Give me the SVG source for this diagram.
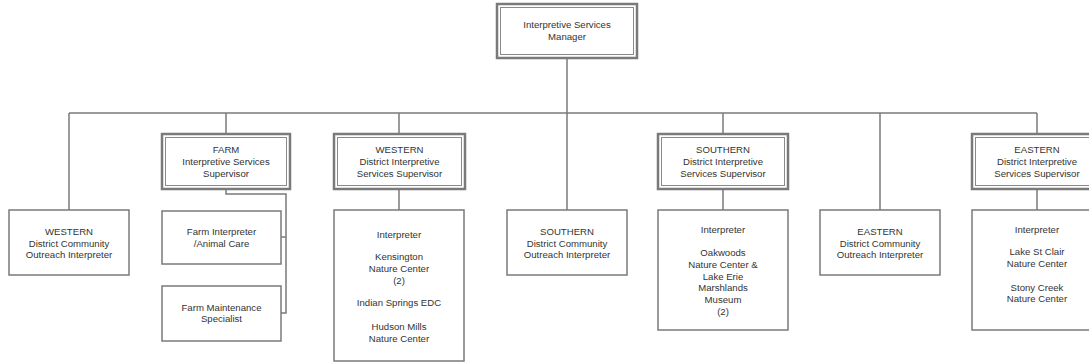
<svg xmlns="http://www.w3.org/2000/svg" width="1089" height="364" viewBox="0 0 1089 364">
<style>
.bg{fill:#ffffff}
.box{fill:#ffffff;stroke:#7a7a7a;stroke-width:1.5}
.dbl{fill:#ffffff;stroke:#7a7a7a;stroke-width:2.5}
.inner{fill:none;stroke:#8a8a8a;stroke-width:1}
.ln{fill:none;stroke:#7a7a7a;stroke-width:1.5}
text{font-family:"Liberation Sans",Arial,sans-serif;font-size:9.6px;fill:#333333;text-anchor:middle}
</style>
<rect class="bg" x="0" y="0" width="1089" height="364"/>
<g id="connectors">
<path class="ln" d="M567,58 V210"/>
<path class="ln" d="M69,113 H1037"/>
<path class="ln" d="M69,113 V210"/>
<path class="ln" d="M226,113 V134"/>
<path class="ln" d="M399,113 V134"/>
<path class="ln" d="M723,113 V134"/>
<path class="ln" d="M880,113 V210"/>
<path class="ln" d="M1037,113 V134"/>
<path class="ln" d="M226,189 V194 H286 V313 H281"/>
<path class="ln" d="M286,237 H281"/>
<path class="ln" d="M399,189 V210"/>
<path class="ln" d="M723,189 V210"/>
<path class="ln" d="M1037,189 V210"/>
</g>
<g id="manager">
<rect class="dbl" x="497" y="4" width="140" height="54"/>
<rect class="inner" x="500.5" y="7.5" width="133" height="47"/>
<text x="567" y="28">Interpretive Services</text>
<text x="567" y="40">Manager</text>
</g>
<g id="western-outreach">
<rect class="box" x="9" y="210" width="120" height="65"/>
<text x="69" y="235">WESTERN</text>
<text x="69" y="246.5">District Community</text>
<text x="69" y="258">Outreach Interpreter</text>
</g>
<g id="farm-supervisor">
<rect class="dbl" x="162" y="134" width="128" height="55"/>
<rect class="inner" x="165.5" y="137.5" width="121" height="48"/>
<text x="226" y="153">FARM</text>
<text x="226" y="165">Interpretive Services</text>
<text x="226" y="177">Supervisor</text>
</g>
<g id="farm-interpreter">
<rect class="box" x="162" y="211" width="119" height="53"/>
<text x="221.5" y="235">Farm Interpreter</text>
<text x="221.5" y="246.5">/Animal Care</text>
</g>
<g id="farm-maintenance">
<rect class="box" x="162" y="286" width="119" height="55"/>
<text x="221.5" y="311">Farm Maintenance</text>
<text x="221.5" y="322">Specialist</text>
</g>
<g id="western-supervisor">
<rect class="dbl" x="334" y="134" width="131" height="55"/>
<rect class="inner" x="337.5" y="137.5" width="124" height="48"/>
<text x="399.5" y="153">WESTERN</text>
<text x="399.5" y="165">District Interpretive</text>
<text x="399.5" y="177">Services Supervisor</text>
</g>
<g id="western-interpreter">
<rect class="box" x="334" y="210" width="130" height="151"/>
<text x="399" y="238">Interpreter</text>
<text x="399" y="260">Kensington</text>
<text x="399" y="271.5">Nature Center</text>
<text x="399" y="284">(2)</text>
<text x="399" y="306">Indian Springs EDC</text>
<text x="399" y="330">Hudson Mills</text>
<text x="399" y="341.5">Nature Center</text>
</g>
<g id="southern-outreach">
<rect class="box" x="507" y="210" width="120" height="65"/>
<text x="567" y="235">SOUTHERN</text>
<text x="567" y="246.5">District Community</text>
<text x="567" y="258">Outreach Interpreter</text>
</g>
<g id="southern-supervisor">
<rect class="dbl" x="658" y="134" width="130" height="55"/>
<rect class="inner" x="661.5" y="137.5" width="123" height="48"/>
<text x="723" y="153">SOUTHERN</text>
<text x="723" y="165">District Interpretive</text>
<text x="723" y="177">Services Supervisor</text>
</g>
<g id="southern-interpreter">
<rect class="box" x="658" y="210" width="130" height="120"/>
<text x="723" y="233">Interpreter</text>
<text x="723" y="256">Oakwoods</text>
<text x="723" y="268">Nature Center &amp;</text>
<text x="723" y="279.5">Lake Erie</text>
<text x="723" y="291">Marshlands</text>
<text x="723" y="303">Museum</text>
<text x="723" y="314.5">(2)</text>
</g>
<g id="eastern-outreach">
<rect class="box" x="820" y="210" width="120" height="65"/>
<text x="880" y="235">EASTERN</text>
<text x="880" y="246.5">District Community</text>
<text x="880" y="258">Outreach Interpreter</text>
</g>
<g id="eastern-supervisor">
<rect class="dbl" x="972" y="134" width="130" height="55"/>
<rect class="inner" x="975.5" y="137.5" width="123" height="48"/>
<text x="1037" y="153">EASTERN</text>
<text x="1037" y="165">District Interpretive</text>
<text x="1037" y="177">Services Supervisor</text>
</g>
<g id="eastern-interpreter">
<rect class="box" x="972" y="210" width="130" height="120"/>
<text x="1037" y="233">Interpreter</text>
<text x="1037" y="255">Lake St Clair</text>
<text x="1037" y="267">Nature Center</text>
<text x="1037" y="291">Stony Creek</text>
<text x="1037" y="302">Nature Center</text>
</g>
</svg>
